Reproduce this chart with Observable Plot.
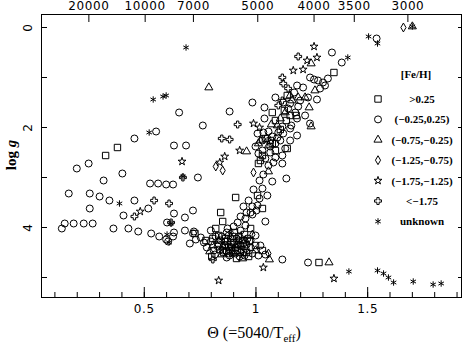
<!DOCTYPE html>
<html><head><meta charset="utf-8">
<script src="https://cdn.jsdelivr.net/npm/d3@7"></script>
<script src="https://cdn.jsdelivr.net/npm/@observablehq/plot@0.6"></script>
<style>body{margin:0;background:#fff}#chart{width:462px;height:348px}</style>
</head><body><div id="chart"></div>
<script>
// [theta, log g] per [Fe/H] class
const feHigh = [[0.380,2.40],[0.327,2.56],[1.349,0.90],[0.909,3.40],[1.282,4.70],
 [1.140,1.36],[1.127,1.66],[1.153,1.76],[1.087,1.86],[1.140,2.42],[1.064,2.26],[1.029,2.56],[1.011,2.72],[1.007,3.36],[1.029,3.62],[1.073,1.70],[1.180,1.76],[1.042,2.22],[1.087,2.46],
 [1.073,2.32],[1.109,2.04],[1.136,1.86],[1.020,2.66],
 [0.727,4.12],[0.776,4.26],[0.842,3.70],[0.864,4.22],[0.896,4.46],[0.931,4.36],[0.967,4.58],[0.820,4.02],[0.802,4.58],[0.913,4.62],[0.851,3.88],[0.949,4.14],[0.998,4.36],[1.029,4.46],[0.887,4.34],[0.833,4.16],[0.873,4.28],[0.896,4.18],[0.918,4.46],[0.940,4.26],[0.856,4.50],[0.958,4.50],[0.976,4.02],
 [0.838,4.44],[0.878,4.38],[0.904,4.10],[0.944,4.50],[0.971,4.28],[0.807,4.22],[0.922,4.34],[0.869,4.46]];
const feSolar = [[0.656,1.70],[0.762,1.96],[0.882,1.68],[0.553,2.08],[0.456,2.22],[0.251,2.72],[0.198,2.82],[0.402,2.92],[0.318,3.06],[0.526,3.12],[0.562,3.12],[0.598,3.14],[0.629,3.14],[0.633,2.36],[0.687,2.36],[0.740,3.00],[0.162,3.32],[0.256,3.32],[0.300,3.38],[0.344,3.46],[0.456,3.46],[0.256,3.62],[0.407,3.76],[0.518,3.62],[0.633,3.72],[0.682,3.80],[0.718,3.66],[0.131,4.02],[0.144,3.92],[0.184,3.92],[0.229,3.92],[0.269,3.92],[0.362,4.02],[0.429,4.02],[0.473,4.08],[0.531,4.12],[0.567,4.18],[0.598,4.24],[0.629,4.18],[0.607,4.28],[0.602,3.90],[0.633,4.10],[0.682,4.06],[0.722,4.08],
 [1.118,1.98],[1.158,1.96],[1.184,1.82],[1.242,1.92],[1.007,2.12],[1.033,2.10],[1.073,2.18],[1.109,2.26],[1.184,2.16],[1.118,2.56],[1.131,2.42],[1.078,2.70],[1.118,2.72],[1.033,2.94],[1.016,3.06],[1.073,3.08],[1.136,3.02],[0.989,3.24],[1.029,3.22],[1.051,3.36],[1.016,3.42],[0.984,3.58],[1.007,3.56],[0.976,3.70],[1.042,3.88],[0.984,1.50],[1.038,1.60],[1.189,1.58],[1.233,1.40],[1.273,1.44],[1.242,1.00],[1.278,1.06],[1.300,1.10],[1.322,1.02],[1.309,1.16],[1.260,1.04],[1.184,1.16],[1.211,1.20],[1.287,1.22],[1.340,0.50],[1.384,0.70],[1.540,0.22],[1.118,4.64],[1.233,4.70],[1.051,2.22],[1.087,2.32],[0.998,2.38],[1.029,2.46],[1.064,2.50],[1.042,2.62],[1.100,2.10],[1.153,2.26],[1.087,1.40],[1.153,1.52],[1.176,1.70],[1.122,2.12],[1.153,2.02],
 [1.029,2.26],[1.064,2.38],[1.096,2.20],[1.056,2.08],[1.011,2.52],[1.087,2.60],[1.122,1.50],[1.144,1.62],[1.198,1.46],[1.171,1.30],[1.220,1.76],[1.038,1.82],[1.056,2.76],
 [0.767,4.30],[0.704,4.32],[0.731,4.24],[0.718,4.12],[0.798,4.06],[0.820,4.18],[0.873,4.02],[0.900,3.98],[0.922,4.26],[0.953,4.42],[0.976,4.26],[0.998,4.16],[0.931,4.06],[0.878,4.52],[0.953,3.96],[0.958,3.70],[0.931,3.78],[0.944,3.58],[0.967,3.46],[0.918,3.90],[0.753,4.20],[0.833,4.34],[0.851,4.46],[0.909,4.52],[0.984,4.52],[1.011,4.56],[1.042,4.54],[1.020,4.36],[0.842,4.26],[0.864,4.36],[0.887,4.22],[0.909,4.40],[0.931,4.50],[0.878,4.16],[0.900,4.30],[0.922,4.18],[0.944,4.32],[0.811,4.46],[0.869,4.60],[0.962,4.22],[0.953,3.82],[0.984,3.74],[1.002,3.66],
 [0.829,4.38],[0.847,4.18],[0.869,4.10],[0.891,4.40],[0.913,4.22],[0.936,4.44],[0.958,4.34],[0.860,4.28],[0.882,4.56],[0.927,4.58],[0.949,4.56],[0.976,4.40],[0.798,4.28],[0.780,4.40],[0.816,4.54]];
const feMid = [[0.789,1.20],[1.247,0.72],[1.264,1.26],[1.220,1.40],[1.189,1.40],[1.238,1.60],[1.247,1.98],[1.069,1.94],[0.958,2.48],[1.060,4.64],[1.327,4.70],[1.700,-0.02],[1.131,1.70],[1.109,1.82],[1.056,2.88],[0.913,4.34],[0.940,4.62],[0.851,4.38],[0.998,4.46],[0.807,4.36],[1.020,2.26],[1.056,2.36],[1.162,1.46],[1.011,2.32],[0.882,4.42],[0.931,4.18],[0.833,4.26],
 [1.096,1.96],[1.153,1.36],[0.900,4.50],[0.953,4.26],[0.847,4.54],[0.793,4.48]];
const feLow = [[1.660,0.00],[0.851,2.86],[0.820,2.78],[0.989,2.90],[0.984,4.14],[1.056,4.52],[0.891,4.50],[0.887,4.10]];
const feVeryLow = [[1.260,0.38],[1.273,0.60],[1.229,0.66],[1.167,0.86],[1.211,0.84],[0.989,1.92],[1.016,2.00],[0.927,2.46],[0.669,2.68],[0.482,3.68],[1.033,4.80],[1.349,5.02],[0.833,5.06],[0.838,2.70],[0.860,2.58]];
const feExtreme = [[0.918,1.94],[0.847,2.22],[0.882,2.24],[1.189,0.58],[1.118,1.00],[1.122,1.12],[1.144,1.22],[1.118,1.46],[1.100,1.56],[0.544,3.46],[0.611,3.52],[0.673,3.00],[0.456,3.78],[0.620,3.90],[0.807,4.64]];
const feUnknown = [[0.687,0.40],[0.540,1.44],[0.584,1.38],[0.598,1.36],[0.522,2.10],[0.389,3.52],[0.602,4.14],[0.611,4.30],[0.620,3.92],[0.673,2.98],[1.416,4.88],[1.504,0.18],[1.544,0.32],[1.411,0.60],[1.700,-0.02],[1.544,4.86],[1.571,4.92],[1.593,5.00],[1.616,5.10],[1.704,5.08],[1.793,5.14],[1.829,5.12]];

const classLabels = [">0.25","(\u22120.25,0.25)","(\u22120.75,\u22120.25)","(\u22121.25,\u22120.75)","(\u22121.75,\u22121.25)","<\u22121.75","unknown"];
const classData = [feHigh, feSolar, feMid, feLow, feVeryLow, feExtreme, feUnknown];
const classSymbols = ["square","circle","triangle","diamond","star","cross","asterisk"];
const d3Symbols = [d3.symbolSquare,d3.symbolCircle,d3.symbolTriangle,d3.symbolDiamond,d3.symbolStar,d3.symbolCross,d3.symbolAsterisk];
const classR = [3.6,3.5,3.0,2.7,2.5,2.9,3.0];

const xMajor = [0.5,1,1.5];
const xMinor = d3.range(1,20).map(i=>i/10);
const yTicks = [0,1,2,3,4,5];
const yLabels = [0,2,4];
const teffTicks = [20000,10000,7000,5000,4000,3500,3000];

const marks = [
  Plot.frame({stroke:"#000"}),
  Plot.axisX({anchor:"bottom", ticks:xMinor, tickSize:-5, tickFormat:()=>"", label:null}),
  Plot.axisX({anchor:"bottom", ticks:xMajor, tickSize:-10, tickFormat:()=>"", label:null}),
  Plot.axisX({anchor:"bottom", ticks:xMajor, tickSize:0, tickPadding:7, tickFormat:d=>String(d), label:null}),
  Plot.axisX({anchor:"top", ticks:teffTicks.map(t=>5040/t), tickSize:-7, tickFormat:()=>"", label:null}),
  Plot.axisX({anchor:"top", ticks:teffTicks.map(t=>5040/t), tickSize:0, tickPadding:5, tickFormat:d=>String(Math.round(5040/d)), label:null}),
  Plot.axisY({anchor:"left", ticks:yTicks, tickSize:-6, tickFormat:()=>"", label:null}),
  Plot.axisY({anchor:"left", ticks:yLabels, tickSize:0, tickPadding:10, tickRotate:-90, textAnchor:"middle", lineAnchor:"bottom", tickFormat:d=>String(d), label:null}),
  Plot.axisY({anchor:"right", ticks:yTicks, tickSize:-4, tickFormat:()=>"", label:null}),
  ...classData.map((pts,i)=>Plot.dot(pts, {x:d=>d[0], y:d=>d[1], symbol:classSymbols[i], r:classR[i], stroke:"#000", fill:"none", strokeWidth:1}))
];

const plot = Plot.plot({
  width:462, height:348, marginTop:14, marginBottom:51, marginLeft:41, marginRight:1,
  style:{fontFamily:"DejaVu Sans", fontSize:"12px", background:"#fff", color:"#000", letterSpacing:"0.6px"},
  x:{domain:[0.04,1.92]},
  y:{domain:[-0.26,5.4], reverse:true},
  marks
});
document.getElementById("chart").appendChild(plot);

const svg = d3.select(plot);
// x label
const xl = svg.append("text").attr("x",(41+461)/2+3).attr("y",338).attr("text-anchor","middle")
  .attr("font-family","Liberation Serif").attr("font-size",16).attr("fill","#000").style("letter-spacing","0");
xl.append("tspan").text("\u0398 (=5040/T");
xl.append("tspan").attr("font-size",11).attr("dy",4).text("eff");
xl.append("tspan").attr("dy",-4).text(")");
// y label
const yl = svg.append("text").attr("transform","translate(16,155) rotate(-90)").attr("text-anchor","middle")
  .attr("font-family","Liberation Serif").attr("font-weight","bold").attr("font-size",15).attr("fill","#000").style("letter-spacing","0");
yl.append("tspan").text("log ");
yl.append("tspan").attr("font-style","italic").text("g");
// legend
const lg = svg.append("g").attr("font-family","Liberation Serif").attr("font-weight","bold").attr("font-size",11).attr("fill","#000").style("letter-spacing","0");
lg.append("text").attr("x",416).attr("y",74).attr("dominant-baseline","central").attr("text-anchor","middle").text("[Fe/H]");
classLabels.forEach((lab,i)=>{
  const y = 99 + i*20.4;
  lg.append("path").attr("transform",`translate(378,${y})`).attr("d", d3.symbol(d3Symbols[i], Math.PI*classR[i]*classR[i])())
    .attr("fill","none").attr("stroke","#000").attr("stroke-width",1);
  lg.append("text").attr("x",422).attr("y",y).attr("dominant-baseline","central").attr("text-anchor","middle").text(lab);
});
</script></body></html>
